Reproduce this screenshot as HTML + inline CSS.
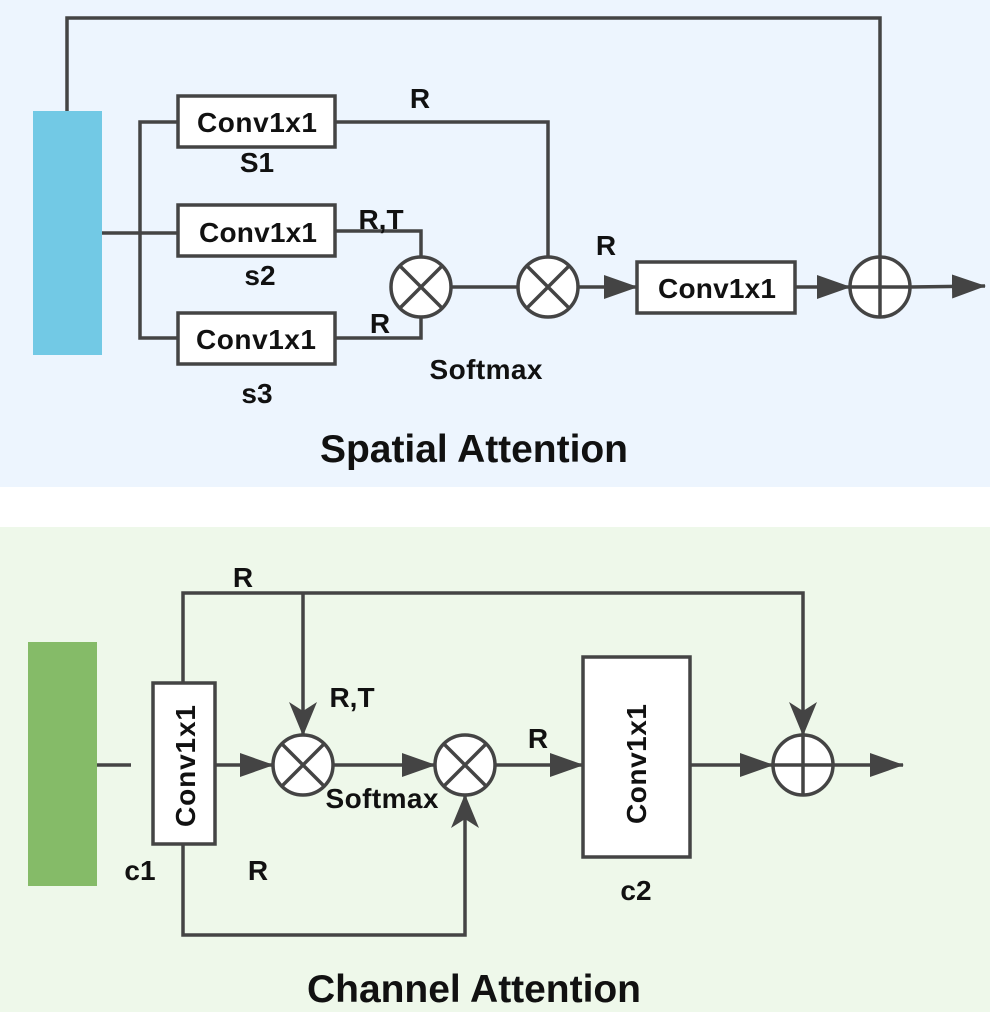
<!DOCTYPE html>
<html><head><meta charset="utf-8"><style>
html,body{margin:0;padding:0;background:#fff}
svg{display:block}
text{font-family:"Liberation Sans",Arial,sans-serif;font-weight:bold;fill:#111}
</style></head><body>
<svg width="992" height="1012" viewBox="0 0 992 1012" xmlns="http://www.w3.org/2000/svg">
<defs>
<marker id="a" markerWidth="34" markerHeight="24" refX="33" refY="12" orient="auto" markerUnits="userSpaceOnUse">
<path d="M0,0 L34,12 L0,24 Z" fill="#444"/></marker>
<marker id="v" markerWidth="34" markerHeight="28" refX="33" refY="14" orient="auto" markerUnits="userSpaceOnUse">
<path d="M0,0 L34,14 L0,28 L9,14 Z" fill="#444"/></marker>
</defs>
<rect x="0" y="0" width="990" height="487" fill="#edf5fe"/>
<rect x="0" y="527" width="990" height="485" fill="#eef8ea"/>
<g stroke="#444" stroke-width="3.5" fill="none">
<polyline points="67,111 67,18 880,18 880,257"/>
<line x1="102" y1="233" x2="178" y2="233"/>
<polyline points="178,122 140,122 140,338 178,338"/>
<polyline points="335,122 548,122 548,257"/>
<polyline points="335,231 421,231 421,257"/>
<polyline points="335,338 421,338 421,315"/>
<line x1="450" y1="287" x2="518" y2="287"/>
<line x1="578" y1="287" x2="637" y2="287" marker-end="url(#a)"/>
<line x1="795" y1="287" x2="850" y2="287" marker-end="url(#a)"/>
<line x1="910" y1="287" x2="985" y2="286" marker-end="url(#a)"/>
<rect x="178" y="96" width="157" height="51" fill="#fff"/>
<rect x="178" y="205" width="157" height="51" fill="#fff"/>
<rect x="178" y="313" width="157" height="51" fill="#fff"/>
<rect x="637" y="262" width="158" height="51" fill="#fff"/>
<circle cx="421" cy="287" r="30" fill="#fff"/>
<path d="M400,266 L442,308 M442,266 L400,308"/>
<circle cx="548" cy="287" r="30" fill="#fff"/>
<path d="M527,266 L569,308 M569,266 L527,308"/>
<circle cx="880" cy="287" r="30" fill="#fff"/>
<path d="M850,287 L910,287 M880,257 L880,317"/>
<line x1="97" y1="765" x2="131" y2="765"/>
<polyline points="183,683 183,593 803,593 803,735" marker-end="url(#v)"/>
<line x1="303" y1="593" x2="303" y2="735" marker-end="url(#v)"/>
<polyline points="183,844 183,935 465,935 465,795" marker-end="url(#v)"/>
<line x1="215" y1="765" x2="273" y2="765" marker-end="url(#a)"/>
<line x1="333" y1="765" x2="435" y2="765" marker-end="url(#a)"/>
<line x1="495" y1="765" x2="583" y2="765" marker-end="url(#a)"/>
<line x1="690" y1="765" x2="773" y2="765" marker-end="url(#a)"/>
<line x1="833" y1="765" x2="903" y2="765" marker-end="url(#a)"/>
<rect x="153" y="683" width="62" height="161" fill="#fff"/>
<rect x="583" y="657" width="107" height="200" fill="#fff"/>
<circle cx="303" cy="765" r="30" fill="#fff"/>
<path d="M282,744 L324,786 M324,744 L282,786"/>
<circle cx="465" cy="765" r="30" fill="#fff"/>
<path d="M444,744 L486,786 M486,744 L444,786"/>
<circle cx="803" cy="765" r="30" fill="#fff"/>
<path d="M773,765 L833,765 M803,735 L803,795"/>
</g>
<rect x="33" y="111" width="69" height="244" fill="#72c9e5"/>
<rect x="28" y="642" width="69" height="244" fill="#85bb68"/>
<g font-size="28" text-anchor="middle" lengthAdjust="spacingAndGlyphs">
<text x="257" y="132" textLength="120">Conv1x1</text>
<text x="258" y="242" textLength="118">Conv1x1</text>
<text x="256" y="349" textLength="120">Conv1x1</text>
<text x="717" y="298" textLength="118">Conv1x1</text>
<text x="420" y="108">R</text>
<text x="381" y="229">R,T</text>
<text x="380" y="333">R</text>
<text x="486" y="379" textLength="113">Softmax</text>
<text x="606" y="255">R</text>
<text x="257" y="172">S1</text>
<text x="260" y="285">s2</text>
<text x="257" y="403">s3</text>
<text x="474" y="462" font-size="39" textLength="308">Spatial Attention</text>
<text transform="translate(195,766) rotate(-90)" textLength="122">Conv1x1</text>
<text transform="translate(646,764) rotate(-90)" textLength="120">Conv1x1</text>
<text x="243" y="587">R</text>
<text x="352" y="707">R,T</text>
<text x="382" y="808" textLength="113">Softmax</text>
<text x="140" y="880">c1</text>
<text x="258" y="880">R</text>
<text x="538" y="748">R</text>
<text x="636" y="900">c2</text>
<text x="474" y="1002" font-size="39" textLength="334">Channel Attention</text>
</g>
</svg>
</body></html>
